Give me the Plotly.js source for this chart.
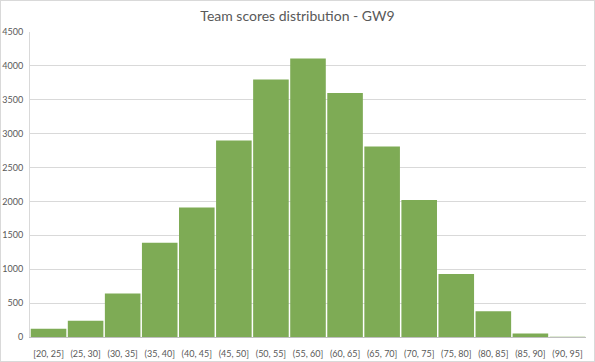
<!DOCTYPE html>
<html><head><meta charset="utf-8">
<script src="https://cdn.plot.ly/plotly-3.0.1.min.js"></script>
<style>
html,body{margin:0;padding:0;background:#fff;}
#c{width:593px;height:360px;border:1px solid #d9d9d9;}
</style></head>
<body><div id="c"></div>
<script>
const categories = ["[20, 25]","(25, 30]","(30, 35]","(35, 40]","(40, 45]","(45, 50]","(50, 55]","(55, 60]","(60, 65]","(65, 70]","(70, 75]","(75, 80]","(80, 85]","(85, 90]","(90, 95]"];
const counts = [120, 240, 640, 1390, 1910, 2900, 3800, 4110, 3600, 2810, 2020, 930, 380, 50, 5];
const yTicks = [0,500,1000,1500,2000,2500,3000,3500,4000,4500];

Plotly.newPlot('c', [{
  type: 'bar', x: categories, y: counts,
  marker: {color: '#7EAB55', line: {width: 0}},
  hoverinfo: 'x+y'
}], {
  width: 593, height: 360,
  margin: {l: 29, r: 8, t: 31, b: 24},
  paper_bgcolor: '#fff', plot_bgcolor: '#fff',
  bargap: 0.04,
  font: {family: 'Lato, "Open Sans", sans-serif', color: '#595959', size: 9},
  title: {text: 'Team scores distribution - GW9', x: 0.5, xanchor: 'center', y: 0.958, yanchor: 'middle',
          font: {size: 14, color: '#595959', family: 'Lato, "Open Sans", sans-serif'}},
  xaxis: {type: 'category', showgrid: false, showline: true, linecolor: '#bfbfbf', linewidth: 1,
          ticks: '', ticklabelstandoff: 8, tickfont: {size: 9, color: '#595959'}, fixedrange: true},
  yaxis: {range: [0, 4500], tickvals: yTicks, ticktext: yTicks.map(String), showgrid: true,
          gridcolor: '#d9d9d9', gridwidth: 1, zeroline: false, showline: true, linecolor: '#d9d9d9',
          ticks: '', ticklabelstandoff: 4, tickfont: {size: 9, color: '#595959'}, fixedrange: true},
  showlegend: false
}, {displayModeBar: false, staticPlot: true});
</script></body></html>
